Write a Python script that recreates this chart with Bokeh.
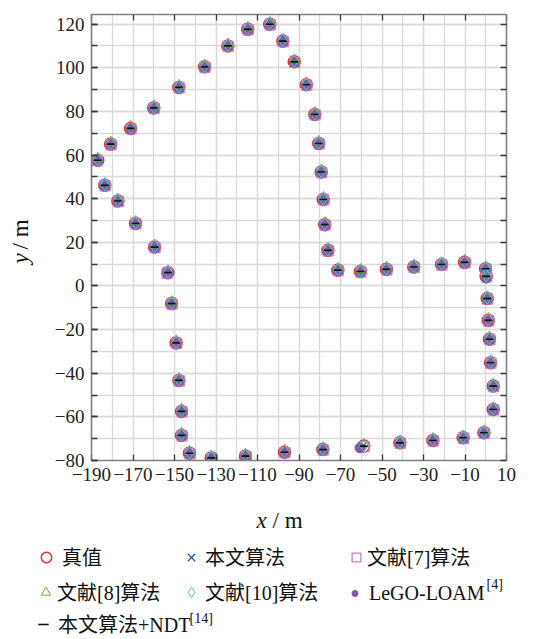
from bokeh.plotting import figure
from bokeh.models import Range1d, FixedTicker, LinearAxis, Label, Legend, LegendItem
from bokeh.layouts import column, row
from bokeh.embed import file_html
from bokeh.resources import INLINE

# ---------------- data ----------------
truth_x = [-187.0, -183.6, -177.3, -168.8, -159.6, -153.2, -151.4, -149.2, -147.9, -146.6,
           -146.6, -142.8, -132.3, -115.8, -97.0, -78.5, -58.8, -41.4, -25.5, -10.9,
           -0.9, 3.6, 3.6, 2.3, 1.8, 1.2, 0.7, 0.2, -0.1, -10.2,
           -21.3, -34.7, -47.9, -60.4, -71.3, -76.1, -77.6, -78.3, -79.3, -80.5,
           -82.4, -86.5, -92.3, -97.8, -104.1, -114.7, -124.3, -135.5, -147.9, -160.0,
           -171.2, -180.8]
truth_y = [57.6, 46.1, 38.9, 28.6, 17.8, 6.1, -8.1, -26.1, -43.3, -57.5,
           -68.5, -76.7, -78.8, -78.0, -76.2, -75.0, -73.4, -71.9, -70.8, -69.6,
           -67.3, -56.6, -45.9, -35.2, -24.4, -15.8, -5.8, 4.4, 7.9, 10.8,
           9.8, 8.7, 7.6, 6.6, 7.2, 16.3, 28.1, 39.6, 52.2, 65.3,
           78.6, 92.2, 102.7, 112.2, 119.9, 117.6, 110.0, 100.4, 91.0, 81.6,
           72.2, 65.0]

ours_x = [-187.1, -183.7, -177.5, -168.9, -159.8, -153.3, -151.5, -149.3, -148.0, -146.7,
          -146.7, -142.9, -132.4, -115.9, -97.2, -78.6, -59.0, -41.5, -25.6, -11.0,
          -1.0, 3.4, 3.4, 2.1, 1.6, 1.0, 0.5, 0.1, -0.2, -10.3,
          -21.4, -34.8, -48.0, -60.5, -71.4, -76.2, -77.7, -78.4, -79.4, -80.6,
          -82.5, -86.6, -92.4, -97.9, -104.2, -114.8, -124.4, -135.6, -148.0, -160.1,
          -171.3, -180.9]
ours_y = [57.8, 46.3, 39.1, 28.8, 18.0, 6.3, -7.9, -25.9, -43.1, -57.3,
          -68.3, -76.5, -78.6, -77.8, -76.0, -74.8, -73.2, -71.7, -70.6, -69.4,
          -67.1, -56.4, -45.7, -35.0, -24.2, -15.6, -5.6, 4.6, 8.1, 11.0,
          10.0, 8.9, 7.8, 6.8, 7.4, 16.5, 28.3, 39.8, 52.4, 65.5,
          78.8, 92.4, 102.9, 112.4, 120.1, 117.8, 110.2, 100.6, 91.2, 81.8,
          72.4, 65.2]

ref7_x = [-187.3, -183.4, -177.0, -168.6, -159.4, -153.5, -151.2, -149.0, -147.7, -146.4,
          -146.4, -142.6, -132.0, -115.5, -96.8, -78.3, -58.6, -41.2, -25.3, -10.7,
          -0.7, 3.8, 3.8, 2.5, 2.0, 1.4, 0.9, 0.4, 0.1, -10.0,
          -21.1, -34.5, -47.7, -60.2, -71.1, -75.9, -77.4, -78.1, -79.1, -80.3,
          -82.2, -86.3, -92.1, -97.6, -103.9, -114.5, -124.1, -135.3, -147.7, -159.8,
          -171.0, -180.6]
ref7_y = [57.4, 45.9, 38.7, 28.4, 17.6, 5.9, -8.3, -26.3, -43.5, -57.7,
          -68.7, -76.9, -79.0, -78.2, -76.4, -75.2, -73.6, -72.1, -71.0, -69.8,
          -67.5, -56.8, -46.1, -35.4, -24.6, -16.0, -6.0, 4.2, 7.7, 10.6,
          9.6, 8.5, 7.4, 6.4, 7.0, 16.1, 27.9, 39.4, 52.0, 65.1,
          78.4, 92.0, 102.5, 112.0, 119.7, 117.4, 109.8, 100.2, 90.8, 81.4,
          72.0, 64.8]

ref8_x = [-186.9, -183.5, -177.2, -168.7, -159.5, -153.1, -151.3, -149.1, -147.8, -146.5,
          -146.5, -142.7, -132.2, -115.7, -96.9, -78.4, -58.7, -41.3, -25.4, -10.8,
          -0.8, 3.7, 3.7, 2.4, 1.9, 1.3, 0.8, 0.3, 0.0, -10.1,
          -21.2, -34.6, -47.8, -60.3, -71.2, -76.0, -77.5, -78.2, -79.2, -80.4,
          -82.3, -86.4, -92.2, -97.7, -104.0, -114.6, -124.2, -135.4, -147.8, -159.9,
          -171.1, -180.7]
ref8_y = [58.6, 47.1, 39.9, 29.6, 18.8, 7.1, -7.1, -25.1, -42.3, -56.5,
          -67.5, -75.7, -77.8, -77.0, -75.2, -74.0, -72.4, -70.9, -69.8, -68.6,
          -66.3, -55.6, -44.9, -34.2, -23.4, -14.8, -4.8, 5.4, 8.9, 11.8,
          10.8, 9.7, 8.6, 7.6, 8.2, 17.3, 29.1, 40.6, 53.2, 66.3,
          79.6, 93.2, 103.7, 113.2, 120.9, 118.6, 111.0, 101.4, 92.0, 82.6,
          73.2, 66.0]

ref10_x = [-187.0, -183.6, -177.3, -168.8, -159.6, -153.2, -151.4, -149.2, -147.9, -146.6,
           -146.6, -142.8, -132.3, -115.8, -97.0, -78.5, -58.8, -41.4, -25.5, -10.9,
           -0.9, 3.6, 3.6, 2.3, 1.8, 1.2, 0.7, 0.2, -0.1, -10.2,
           -21.3, -34.7, -47.9, -60.4, -71.3, -76.1, -77.6, -78.3, -79.3, -80.5,
           -82.4, -86.5, -92.3, -97.8, -104.1, -114.7, -124.3, -135.5, -147.9, -160.0,
           -171.2, -180.8]
ref10_y = [58.0, 46.5, 39.3, 29.0, 18.2, 6.5, -7.7, -25.7, -42.9, -57.1,
           -68.1, -76.3, -78.4, -77.6, -75.8, -74.6, -73.0, -71.5, -70.4, -69.2,
           -66.9, -56.2, -45.5, -34.8, -24.0, -15.4, -5.4, 4.8, 8.3, 11.2,
           10.2, 9.1, 8.0, 7.0, 7.6, 16.7, 28.5, 40.0, 52.6, 65.7,
           79.0, 92.6, 103.1, 112.6, 120.3, 118.0, 110.4, 100.8, 91.4, 82.0,
           72.6, 65.4]

lego_x = [-187.0, -183.6, -177.3, -168.8, -159.6, -153.2, -151.4, -149.2, -147.9, -146.6,
          -146.6, -142.8, -132.3, -115.8, -97.0, -78.5, -60.6, -41.4, -25.5, -10.9,
          -0.9, 3.6, 3.6, 2.3, 1.8, 1.2, 0.7, 0.2, -0.1, -10.2,
          -21.3, -34.7, -47.9, -60.4, -71.3, -76.1, -77.6, -78.3, -79.3, -80.5,
          -82.4, -86.5, -92.3, -97.8, -104.1, -114.7, -124.3, -135.5, -147.9, -160.0,
          -171.2, -180.8]
lego_y = [57.4, 45.9, 38.7, 28.4, 17.6, 5.9, -8.3, -26.3, -43.5, -57.7,
          -68.7, -76.9, -79.0, -78.2, -76.4, -75.2, -74.2, -72.1, -71.0, -69.8,
          -67.5, -56.8, -46.1, -35.4, -24.6, -16.0, -6.0, 3.6, 7.7, 10.6,
          9.6, 8.5, 7.4, 6.4, 7.0, 16.1, 27.9, 39.4, 52.0, 65.1,
          78.4, 92.0, 102.5, 112.0, 119.7, 117.4, 109.8, 100.2, 90.8, 81.4,
          72.0, 64.8]

ndt_x = [-187.0, -183.6, -177.3, -168.8, -159.6, -153.2, -151.4, -149.2, -147.9, -146.6,
         -146.6, -142.8, -132.3, -115.8, -97.0, -78.5, -58.8, -41.4, -25.5, -10.9,
         -0.9, 3.6, 3.6, 2.3, 1.8, 1.2, 0.7, 0.2, -0.1, -10.2,
         -21.3, -34.7, -47.9, -60.4, -71.3, -76.1, -77.6, -78.3, -79.3, -80.5,
         -82.4, -86.5, -92.3, -97.8, -104.1, -114.7, -124.3, -135.5, -147.9, -160.0,
         -171.2, -180.8]
ndt_y = [57.6, 46.1, 38.9, 28.6, 17.8, 6.1, -8.1, -26.1, -43.3, -57.5,
         -68.5, -76.7, -78.8, -78.0, -76.2, -75.0, -73.4, -71.9, -70.8, -69.6,
         -67.3, -56.6, -45.9, -35.2, -24.4, -15.8, -5.8, 4.4, 7.9, 10.8,
         9.8, 8.7, 7.6, 6.6, 7.2, 16.3, 28.1, 39.6, 52.2, 65.3,
         78.6, 92.2, 102.7, 112.2, 119.9, 117.6, 110.0, 100.4, 91.0, 81.6,
         72.2, 65.0]

x_major = [-190, -170, -150, -130, -110, -90, -70, -50, -30, -10, 10]
x_minor = [-190, -180, -170, -160, -150, -140, -130, -120, -110, -100, -90, -80, -70,
           -60, -50, -40, -30, -20, -10, 0, 10]
y_major = [-80, -60, -40, -20, 0, 20, 40, 60, 80, 100, 120]
y_minor = [-80, -70, -60, -50, -40, -30, -20, -10, 0, 10, 20, 30, 40, 50, 60, 70, 80,
           90, 100, 110, 120]

series_names = ["真值", "本文算法", "文献[7]算法", "文献[8]算法", "文献[10]算法",
                "LeGO-LOAM", "本文算法+NDT"]
series_x = [truth_x, ours_x, ref7_x, ref8_x, ref10_x, lego_x, ndt_x]
series_y = [truth_y, ours_y, ref7_y, ref8_y, ref10_y, lego_y, ndt_y]

SERIF = "Liberation Serif, Noto Sans CJK SC"

# marker styles
STY = {
    "truth": dict(marker="circle", size=12, fill_color=None, line_color="#ee2a2f", line_width=1.5),
    "ours": dict(marker="x", size=8, line_color="#2457a6", line_width=1.3),
    "ref7": dict(marker="square", size=10, fill_color=None, line_color="#c77dc6", line_width=1.3),
    "lego": dict(marker="circle", size=10, fill_color="#7a5ba8", line_color="#7a5ba8", line_width=1),
    "ref8": dict(marker="triangle", size=10, fill_color=None, line_color="#5fb63a", line_width=1.0),
    "ref10": dict(marker="diamond", size=13, fill_color=None, line_color="#55c5d1", line_width=1.0),
    "ndt": dict(marker="dash", size=8, line_color="#111111", line_width=1.6),
}
keys = ["truth", "ours", "ref7", "ref8", "ref10", "lego", "ndt"]
draw_order = ["truth", "ours", "ref7", "lego", "ref8", "ref10", "ndt"]

# ---------------- main figure ----------------
p = figure(width=509, height=495, output_backend="svg", toolbar_location=None,
           x_range=Range1d(-190, 10), y_range=Range1d(-80, 124.4),
           min_border_left=51, min_border_right=43, min_border_top=14,
           min_border_bottom=35)
p.outline_line_color = None
p.background_fill_color = "white"
p.border_fill_color = "white"

bottom_axis = p.below[0]
left_axis = p.left[0]

xt = FixedTicker(ticks=x_major, minor_ticks=x_minor)
yt = FixedTicker(ticks=y_major, minor_ticks=y_minor)
bottom_axis.ticker = xt
left_axis.ticker = yt
p.xgrid.ticker = xt
p.ygrid.ticker = yt
for g in (p.xgrid, p.ygrid):
    g.grid_line_color = "#dadada"
    g.grid_line_width = 1.3
    g.minor_grid_line_color = "#dadada"
    g.minor_grid_line_width = 1.3

# mirrored tick marks on top and right (minor ticks only => no labels)
top_axis = LinearAxis(ticker=FixedTicker(ticks=[], minor_ticks=x_major))
right_axis = LinearAxis(ticker=FixedTicker(ticks=[], minor_ticks=y_minor))
p.add_layout(top_axis, "above")
p.add_layout(right_axis, "right")


def minus(v):
    return ("\u2212" + str(abs(v))) if v < 0 else str(v)


for ax in (bottom_axis, left_axis, top_axis, right_axis):
    ax.axis_line_color = "#7f7f7f"
    ax.axis_line_width = 1.6
    ax.major_tick_in = 6
    ax.major_tick_out = 0
    ax.major_tick_line_color = "#3c3c3c"
    ax.major_tick_line_width = 1.3
    ax.minor_tick_out = 0
    ax.minor_tick_line_color = "#3c3c3c"
    ax.minor_tick_line_width = 1.3
    ax.major_label_text_font = SERIF
    ax.major_label_text_font_size = "19px"
    ax.major_label_text_color = "#222222"

bottom_axis.minor_tick_in = 0
bottom_axis.major_label_overrides = {v: minus(v) for v in x_major}
bottom_axis.major_label_standoff = 7
left_axis.minor_tick_in = 6
left_axis.major_label_overrides = {v: minus(v) for v in y_major}
left_axis.major_label_standoff = 7
for ax in (top_axis, right_axis):
    ax.minor_tick_in = 6
    ax.major_label_standoff = 0

for key in draw_order:
    i = keys.index(key)
    p.scatter(series_x[i], series_y[i], **STY[key])

# ---------------- y-title strip (left; its frame aligns with the main frame) ----------------
py_ = figure(width=40, height=495, output_backend="svg", toolbar_location=None,
             x_axis_location=None, y_axis_location=None, min_border=0,
             x_range=Range1d(0, 40), y_range=Range1d(0, 495))
py_.outline_line_color = None
py_.grid.visible = False
py_.add_layout(Label(x=20, y=202, x_units="screen", y_units="screen", text="y",
                     text_font=SERIF, text_font_style="italic", text_font_size="23px",
                     text_color="#111111", text_baseline="middle", text_align="center",
                     angle=1.5707963))
py_.add_layout(Label(x=20, y=211, x_units="screen", y_units="screen", text="/ m",
                     text_font=SERIF, text_font_size="23px",
                     text_color="#111111", text_baseline="middle", text_align="left",
                     angle=1.5707963))

# ---------------- x-title and legend strip (bottom) ----------------
# data ranges far from the series, so the legend's own renderers show only in the legend
pb = figure(width=549, height=144, output_backend="svg", toolbar_location=None,
            x_axis_location=None, y_axis_location=None, min_border=0,
            x_range=Range1d(1000, 1549), y_range=Range1d(1000, 1144))
pb.outline_line_color = None
pb.grid.visible = False

pb.add_layout(Label(x=261, y=119, x_units="screen", y_units="screen", text="x",
                    text_font=SERIF, text_font_style="italic", text_font_size="23px",
                    text_color="#111111", text_baseline="middle", text_align="center"))
pb.add_layout(Label(x=272, y=119, x_units="screen", y_units="screen", text="/ m",
                    text_font=SERIF, text_font_size="23px",
                    text_color="#111111", text_baseline="middle", text_align="left"))

# legend layout: (glyph box width, box left x, box bottom y, label standoff)
legend_pos = [(32, 30, 68, 0), (28, 177, 68, 0), (22, 345, 68, 0),
              (23, 34, 33, 0), (28, 177, 33, 0), (15, 347, 33, 7),
              (30, 28, 1, 0)]
for i, (key, name, (w, lx, ly, so)) in enumerate(zip(keys, series_names, legend_pos)):
    rend = pb.scatter(series_x[i], series_y[i], **STY[key])
    lg = Legend(items=[LegendItem(label=name, renderers=[rend])],
                location=(lx, ly), orientation="horizontal",
                glyph_width=w, glyph_height=26, label_height=26,
                label_standoff=so, padding=0, margin=0, spacing=0,
                border_line_color=None, background_fill_alpha=0,
                label_text_font=SERIF, label_text_font_size="20px",
                label_text_color="#111111")
    pb.add_layout(lg)

pb.add_layout(Label(x=486, y=55, x_units="screen", y_units="screen", text="[4]",
                    text_font=SERIF, text_font_size="14px", text_color="#111111",
                    text_baseline="middle", text_align="left"))
pb.add_layout(Label(x=189, y=21, x_units="screen", y_units="screen", text="[14]",
                    text_font=SERIF, text_font_size="14px", text_color="#111111",
                    text_baseline="middle", text_align="left"))

layout = column(row(py_, p), pb)
open("out.html", "w").write(file_html(layout, INLINE))
